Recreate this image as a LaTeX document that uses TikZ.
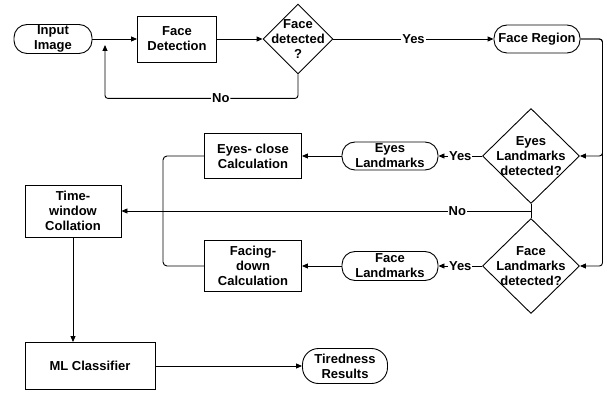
\documentclass[tikz,border=0pt]{standalone}
\usepackage{fontspec}
\setmainfont{Liberation Sans}
\usetikzlibrary{shapes.geometric,arrows.meta}

\begin{document}
\begin{tikzpicture}[x=1pt,y=-1pt,line width=0.9pt,
  font=\bfseries\fontsize{13}{15}\selectfont,
  every node/.style={align=center},
  procbox/.style={draw,rectangle,inner sep=1pt},
  termbox/.style={draw,rectangle,rounded corners=13pt,inner sep=1pt},
  decbox/.style={draw,diamond,inner sep=0pt},
  elabel/.style={fill=white,inner sep=1pt},
  arr/.style={-{Triangle[length=6pt,width=5pt]}}]
\useasboundingbox (0,0) rectangle (607,395);

% top row
\node[termbox,minimum width=78pt,minimum height=29pt] (inimg) at (53,39) {Input\\Image};
\node[procbox,minimum width=79pt,minimum height=46pt] (fdet) at (177,39) {Face\\Detection};
\node[decbox,minimum width=70pt,minimum height=70pt,label={center:{Face\\detected\\?}}] (facedet) at (298,39) {};
\node[termbox,minimum width=86pt,minimum height=28pt] (facereg) at (537,39) {Face Region};

% landmark checks
\node[decbox,minimum width=97pt,minimum height=95pt,label={center:{Eyes\\Landmarks\\detected?}}] (eyesdet) at (531,156) {};
\node[decbox,minimum width=97pt,minimum height=95pt,label={center:{Face\\Landmarks\\detected?}}] (facelmdet) at (531,266) {};
\node[termbox,minimum width=96pt,minimum height=28pt] (eyeslm) at (390,156) {Eyes\\Landmarks};
\node[termbox,minimum width=96pt,minimum height=29pt] (facelm) at (390,266) {Face\\Landmarks};
\node[procbox,minimum width=97pt,minimum height=45pt] (eyescalc) at (253,156) {Eyes- close\\Calculation};
\node[procbox,minimum width=97pt,minimum height=51pt] (facecalc) at (253,266) {Facing-\\down\\Calculation};

% collation and output
\node[procbox,minimum width=96pt,minimum height=52pt] (timewin) at (73,211) {Time-\\window\\Collation};
\node[procbox,minimum width=130pt,minimum height=47pt] (mlc) at (90,366) {ML Classifier};
\node[termbox,rounded corners=16pt,minimum width=85pt,minimum height=35pt] (tired) at (345,366) {Tiredness\\Results};

\coordinate (noend) at (105,45);
\coordinate (brace) at (163,211);
\coordinate (nojoin) at (531,211);

\draw[arr] (inimg) -- (fdet);
\draw[arr] (fdet) -- (facedet);
\draw[arr] (facedet) -- node[elabel]{Yes} (facereg);
\draw[arr,rounded corners=3pt] (facedet.south) -- ++(0,24) -| node[elabel,pos=0.2]{No} (noend);
\draw[arr,rounded corners=3pt] (facereg.east) -- ++(22,0) |- (eyesdet.east);
\draw[arr,rounded corners=3pt] (facereg.east) -- ++(22,0) |- (facelmdet.east);
\draw[arr] (eyesdet) -- node[elabel]{Yes} (eyeslm);
\draw[arr] (facelmdet) -- node[elabel]{Yes} (facelm);
\draw[arr] (eyeslm) -- (eyescalc);
\draw[arr] (facelm) -- (facecalc);
\draw (eyesdet.south) -- (facelmdet.north);
\draw[arr] (nojoin) -- node[elabel,pos=0.18]{No} (timewin.east);
\draw[rounded corners=4pt] (eyescalc.west) -| (brace) |- (facecalc.west);
\draw[arr] (timewin.south) -- (timewin.south |- mlc.north);
\draw[arr] (mlc) -- (tired);
\end{tikzpicture}
\end{document}
